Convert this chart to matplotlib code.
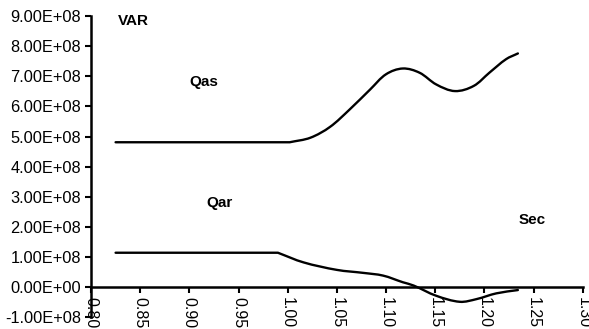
import numpy as np
import matplotlib.pyplot as plt
from matplotlib.path import Path
from matplotlib.patches import PathPatch
from matplotlib.ticker import FuncFormatter, MultipleLocator

plt.rcParams['font.family'] = ['Liberation Sans', 'DejaVu Sans']

# Reactive power curves (VAR) against time (s)
qas_t = [0.825, 0.982, 1.002, 1.023, 1.043, 1.063, 1.084, 1.100, 1.117,
         1.134, 1.151, 1.170, 1.189, 1.205, 1.222, 1.234]
qas_var = [4.81e8, 4.81e8, 4.81e8, 4.96e8, 5.32e8, 5.90e8, 6.57e8, 7.07e8,
           7.26e8, 7.12e8, 6.73e8, 6.51e8, 6.68e8, 7.12e8, 7.57e8, 7.76e8]

qar_t = [0.825, 0.990, 1.016, 1.050, 1.077, 1.097, 1.117, 1.128, 1.151,
         1.175, 1.192, 1.212, 1.234]
qar_var = [1.14e8, 1.14e8, 0.82e8, 0.57e8, 0.47e8, 0.38e8, 0.16e8, 0.05e8,
           -0.29e8, -0.49e8, -0.40e8, -0.21e8, -0.10e8]


def smooth_path(ax, xs, ys):
    # bezier "smoothed line" through the points; flat runs stay straight
    pts = ax.transData.transform(np.column_stack([xs, ys]))
    n = len(pts)
    flat = [ys[i] == ys[i + 1] for i in range(n - 1)]
    dirs = []
    for i in range(n):
        if i > 0 and flat[i - 1] and i < n - 1:
            d = pts[i + 1] - pts[i]
        else:
            d = pts[min(i + 1, n - 1)] - pts[max(i - 1, 0)]
        dirs.append(d / np.hypot(*d))
    verts = [tuple(pts[0])]
    codes = [Path.MOVETO]
    for i in range(n - 1):
        if flat[i]:
            verts.append(tuple(pts[i + 1]))
            codes.append(Path.LINETO)
            continue
        L = np.hypot(*(pts[i + 1] - pts[i])) / 3.0
        c1 = pts[i] + dirs[i] * L
        c2 = pts[i + 1] - dirs[i + 1] * L
        verts += [tuple(c1), tuple(c2), tuple(pts[i + 1])]
        codes += [Path.CURVE4] * 3
    return Path(ax.transData.inverted().transform(verts), codes)


fig = plt.figure(figsize=(5.89, 3.29), dpi=100)
ax = fig.add_axes([0.1545, 0.036, 0.835, 0.915])

ax.set_xlim(0.80, 1.30)
ax.set_ylim(-1e8, 9e8)

for xs, ys in [(qas_t, qas_var), (qar_t, qar_var)]:
    ax.add_patch(PathPatch(smooth_path(ax, xs, ys), fill=False,
                           edgecolor='black', lw=1.7, capstyle='round'))

ax.xaxis.set_major_locator(MultipleLocator(0.05))
ax.yaxis.set_major_locator(MultipleLocator(1e8))
ax.xaxis.set_major_formatter(FuncFormatter(lambda v, p: f'{v:.2f}'))
ax.yaxis.set_major_formatter(FuncFormatter(lambda v, p: f'{v:.2E}'))

for s in ['top', 'right']:
    ax.spines[s].set_visible(False)
ax.spines['bottom'].set_position(('data', 0))
ax.spines['left'].set_linewidth(1.8)
ax.spines['bottom'].set_linewidth(1.8)

ax.tick_params(axis='y', direction='out', length=4, width=1.5, labelsize=11.8, pad=3)
ax.tick_params(axis='x', direction='out', length=4, width=1.5, labelsize=11.5,
               labelrotation=-90, pad=3)

bold = dict(fontsize=11, fontweight='bold', va='center', ha='left')
ax.text(0.827, 8.83e8, 'VAR', **bold)
ax.text(0.900, 6.8e8, 'Qas', **bold)
ax.text(0.917, 2.8e8, 'Qar', **bold)
ax.text(1.235, 2.23e8, 'Sec', **bold)

fig.savefig('out.png', dpi=100)
